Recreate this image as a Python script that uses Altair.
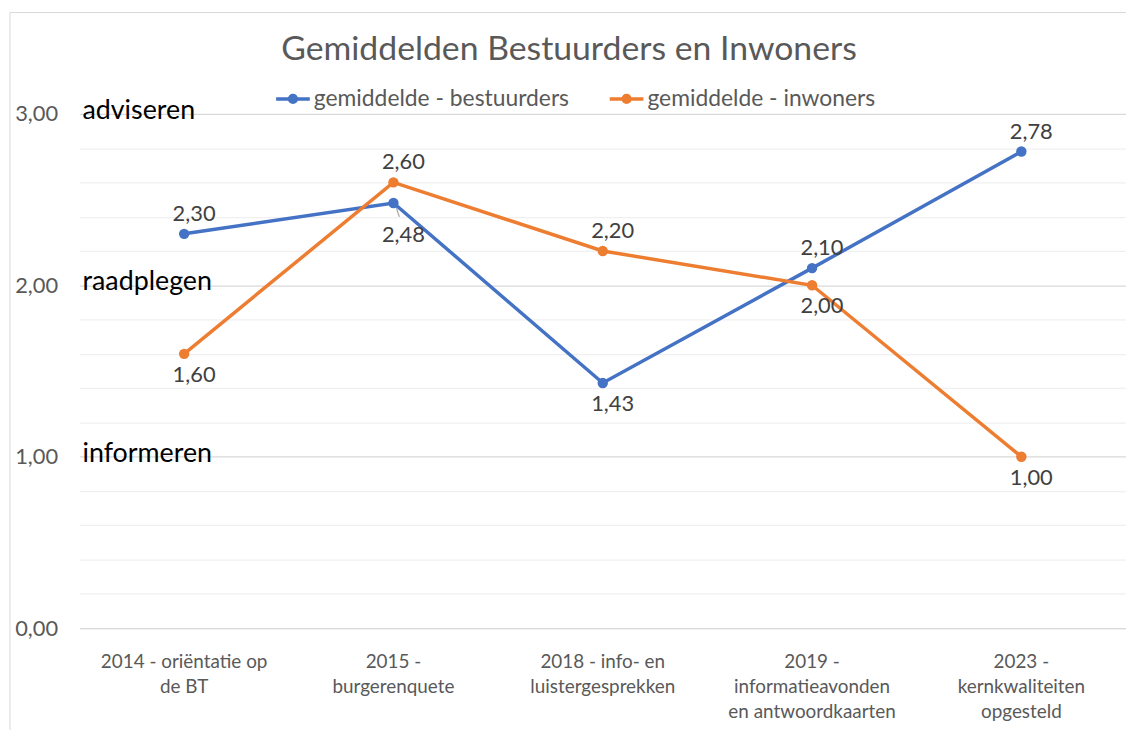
import altair as alt
import pandas as pd

categories = [
    "2014 - oriëntatie op\nde BT",
    "2015 -\nburgerenquete",
    "2018 - info- en\nluistergesprekken",
    "2019 -\ninformatieavonden\nen antwoordkaarten",
    "2023 -\nkernkwaliteiten\nopgesteld",
]
series_names = ["gemiddelde - bestuurders", "gemiddelde - inwoners"]
bestuurders = [2.30, 2.48, 1.43, 2.10, 2.78]
inwoners = [1.60, 2.60, 2.20, 2.00, 1.00]
bestuurders_label_side = ["above", "far", "below", "above", "above"]
inwoners_label_side = ["below", "above", "above", "below", "below"]
level_values = [3, 2, 1]
level_names = ["adviseren", "raadplegen", "informeren"]
y_ticks = [0.0, 0.2, 0.4, 0.6, 0.8, 1.0, 1.2, 1.4, 1.6, 1.8, 2.0,
           2.2, 2.4, 2.6, 2.8, 3.0]

FONT = "Lato"
BLUE = "#4472C4"
ORANGE = "#ED7D31"
GREY = "#595959"

rows = []
for c, v, s in zip(categories, bestuurders, bestuurders_label_side):
    rows.append({"cat": c, "series": series_names[0], "value": v, "side": s})
for c, v, s in zip(categories, inwoners, inwoners_label_side):
    rows.append({"cat": c, "series": series_names[1], "value": v, "side": s})
df = pd.DataFrame(rows)

levels_df = pd.DataFrame({"level": level_values, "name": level_names})

color_scale = alt.Scale(domain=series_names, range=[BLUE, ORANGE])
y_scale = alt.Scale(domain=[0, 3], nice=False, zero=True)
x_plain = alt.X("cat:N", sort=categories)
y_plain = alt.Y("value:Q", scale=y_scale)

x_enc = alt.X(
    "cat:N",
    sort=categories,
    axis=alt.Axis(
        title=None,
        labelAngle=0,
        labelExpr="split(datum.label, '\\n')",
        ticks=False,
        domainColor="#d9d9d9",
        labelColor=GREY,
        labelFontSize=19,
        labelFont=FONT,
        labelPadding=25,
        labelLineHeight=25,
        grid=False,
    ),
)
y_enc = alt.Y(
    "value:Q",
    scale=y_scale,
    axis=alt.Axis(
        title=None,
        values=y_ticks,
        tickCount=40,
        labelExpr="abs(datum.value - round(datum.value)) < 0.001 ? replace(format(datum.value, '.2f'), '.', ',') : ''",
        labelOverlap=False,
        domain=False,
        ticks=False,
        labelPadding=22,
        labelFontSize=22,
        labelFont=FONT,
        labelColor=GREY,
        gridColor={
            "condition": {"test": "abs(datum.value - round(datum.value)) < 0.001", "value": "#d9d9d9"},
            "value": "#f0f0f0",
        },
        gridWidth=1.2,
    ),
)

legend_path = (
    "M-1,0L1,0"
    "M-0.2,0a0.2,0.2 0 1,0 0.4,0a0.2,0.2 0 1,0 -0.4,0"
    "M-0.08,0a0.08,0.08 0 1,0 0.16,0a0.08,0.08 0 1,0 -0.16,0"
)

base = alt.Chart(df)

lines = base.mark_line(strokeWidth=3.5).encode(
    x=x_enc,
    y=y_enc,
    color=alt.Color(
        "series:N",
        scale=color_scale,
        legend=alt.Legend(
            title=None,
            orient="none",
            legendX=196,
            legendY=-34,
            direction="horizontal",
            symbolType=legend_path,
            symbolSize=1150,
            symbolStrokeWidth=3.5,
            labelFontSize=23,
            labelFont=FONT,
            labelColor=GREY,
            labelLimit=400,
            columnPadding=33,
            labelOffset=2,
        ),
    ),
)

points = base.mark_circle(size=110, opacity=1).encode(
    x=x_plain,
    y=y_plain,
    color=alt.Color("series:N", scale=color_scale, legend=None),
)

leader = base.transform_filter("datum.side == 'far'").mark_rule(
    color="#a6a6a6", strokeWidth=1.2, xOffset=3, x2Offset=6, yOffset=5, y2Offset=14
).encode(
    x=x_plain,
    x2=alt.X2("cat"),
    y=y_plain,
    y2=alt.Y2("value"),
)

label_expr = "replace(format(datum.value, '.2f'), '.', ',')"


def value_labels(side, dy):
    return base.transform_filter(f"datum.side == '{side}'").transform_calculate(
        lbl=label_expr
    ).mark_text(
        dx=10, dy=dy, fontSize=22, font=FONT, color="#404040"
    ).encode(x=x_plain, y=y_plain, text="lbl:N")


labels_above = value_labels("above", -20)
labels_below = value_labels("below", 21)
labels_far = value_labels("far", 32)

level_text = alt.Chart(levels_df).mark_text(
    align="left", baseline="middle", fontSize=27, font=FONT, color="#000000", dy=-3
).encode(
    x=alt.value(3),
    y=alt.Y("level:Q", scale=y_scale),
    text="name:N",
)

frame = pd.DataFrame({"a": [0]})
left_border = alt.Chart(frame).mark_rule(color="#d9d9d9", strokeWidth=1).encode(
    x=alt.value(-70), y=alt.value(-102), y2=alt.value(640)
)
top_border = alt.Chart(frame).mark_rule(color="#d9d9d9", strokeWidth=1).encode(
    x=alt.value(-70), x2=alt.value(1062), y=alt.value(-102)
)

chart = alt.layer(
    left_border, top_border, lines, points, leader,
    labels_above, labels_below, labels_far, level_text
).properties(
    width=1054,
    height=518,
    padding={"left": 72, "top": 104, "right": 0, "bottom": 100},
    autosize=alt.AutoSizeParams(type="none"),
    title=alt.TitleParams(
        "Gemiddelden Bestuurders en Inwoners",
        fontSize=34,
        font=FONT,
        fontWeight="normal",
        color=GREY,
        anchor="middle",
        dx=-34,
        dy=59,
    ),
    background="white",
).configure_view(stroke=None)

chart.save("out.html", embed_options={"renderer": "svg", "actions": False})
